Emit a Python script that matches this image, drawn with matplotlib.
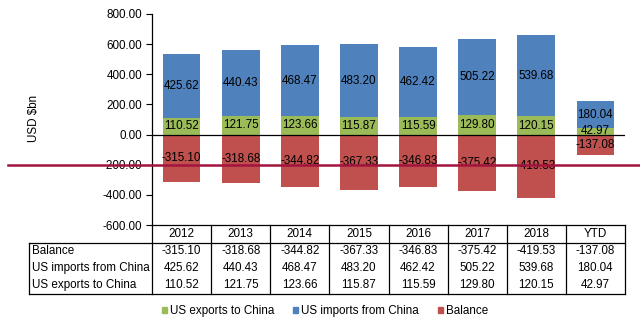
import matplotlib
matplotlib.use('Agg')
import matplotlib.pyplot as plt
from matplotlib.patches import Patch
from matplotlib.lines import Line2D

plt.rcParams['font.family'] = ['Liberation Sans', 'DejaVu Sans']

years = ['2012', '2013', '2014', '2015', '2016', '2017', '2018', 'YTD']
exports = [110.52, 121.75, 123.66, 115.87, 115.59, 129.80, 120.15, 42.97]
imports = [425.62, 440.43, 468.47, 483.20, 462.42, 505.22, 539.68, 180.04]
balance = [-315.10, -318.68, -344.82, -367.33, -346.83, -375.42, -419.53, -137.08]
yticks = [800, 600, 400, 200, 0, -200, -400, -600]

c_exp = '#9BBB59'
c_imp = '#4F81BD'
c_bal = '#C0504D'
fs = 8.4

fig = plt.figure(figsize=(6.4, 3.32), dpi=100)
ax = fig.add_axes([152 / 640, 1 - 225 / 332, 473 / 640, 211 / 332])

x = list(range(len(years)))
w = 0.64
ax.bar(x, exports, w, color=c_exp, zorder=2)
ax.bar(x, imports, w, bottom=exports, color=c_imp, zorder=2)
ax.bar(x, balance, w, color=c_bal, zorder=2)

for i in x:
    ax.text(i, exports[i] / 2, f'{exports[i]:.2f}', ha='center', va='center', fontsize=fs, zorder=3)
    ax.text(i, exports[i] + imports[i] / 2, f'{imports[i]:.2f}', ha='center', va='center', fontsize=fs, zorder=3)
    ax.text(i, balance[i] / 2, f'{balance[i]:.2f}', ha='center', va='center', fontsize=fs, zorder=3)

ax.set_xlim(-0.5, 7.5)
ax.set_ylim(-600, 800)
ax.set_yticks(yticks)
ax.set_yticklabels([f'{v:.2f}' for v in yticks], fontsize=fs)
ax.tick_params(axis='y', length=4, width=0.8, pad=3)
ax.set_xticks([])
for s in ['top', 'right', 'bottom']:
    ax.spines[s].set_visible(False)
ax.spines['left'].set_linewidth(0.9)
ax.axhline(0, color='black', lw=0.9, zorder=2)
ax.set_ylabel('USD $bn', fontsize=fs)
ax.yaxis.set_label_coords((40 - 152) / 473, (225 - 118) / 211)

# dark red line across the whole figure at -200
ax.axhline(-200, xmin=(8 - 152) / 473, xmax=(640 - 152) / 473, color='#A3133F',
           lw=1.8, clip_on=False, zorder=5)

# data table under the chart
tr = ax.get_xaxis_transform()
px = 1 / 211
left = -0.5 - 123 * 8 / 473
y_head = -9 * px
y_hb = -18 * px
rows_y = [-26 * px, -43 * px, -60 * px]
y_bot = -69 * px
lw = 0.9

def seg(xs, ys):
    ax.add_line(Line2D(xs, ys, transform=tr, color='black', lw=lw, clip_on=False))

seg([-0.5, 7.5], [0, 0])
seg([left, 7.5], [y_hb, y_hb])
seg([left, 7.5], [y_bot, y_bot])
for i in range(len(years) + 1):
    seg([-0.5 + i, -0.5 + i], [0, y_bot])
seg([left, left], [y_hb, y_bot])

row_names = ['Balance', 'US imports from China', 'US exports to China']
row_vals = [balance, imports, exports]
for i, yr in enumerate(years):
    ax.text(i, y_head, yr, transform=tr, ha='center', va='center', fontsize=fs)
for name, vals, ry in zip(row_names, row_vals, rows_y):
    ax.text(left + 0.05, ry, name, transform=tr, ha='left', va='center', fontsize=fs)
    for i, v in enumerate(vals):
        ax.text(i, ry, f'{v:.2f}', transform=tr, ha='center', va='center', fontsize=fs)

handles = [Patch(color=c_exp, label='US exports to China'),
           Patch(color=c_imp, label='US imports from China'),
           Patch(color=c_bal, label='Balance')]
fig.legend(handles=handles, loc='center', bbox_to_anchor=(325 / 640, 1 - 311 / 332),
           ncol=3, frameon=False, fontsize=fs, handlelength=0.45, handleheight=0.45,
           handletextpad=0.25, columnspacing=1.6)

fig.savefig('out.png', dpi=100)
